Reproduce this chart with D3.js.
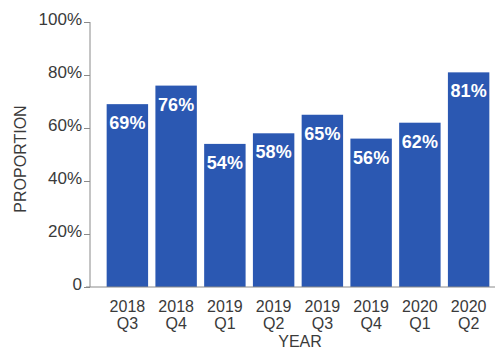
<!DOCTYPE html>
<html><head><meta charset="utf-8">
<script src="https://cdn.jsdelivr.net/npm/d3@7"></script>
<style>body{margin:0;background:#fff}svg{display:block}text{font-family:"Liberation Sans",Arial,sans-serif}</style>
</head><body>
<script>
const years = ["2018","2018","2019","2019","2019","2019","2020","2020"];
const quarters = ["Q3","Q4","Q1","Q2","Q3","Q4","Q1","Q2"];
const values = [69,76,54,58,65,56,62,81];
const yTicks = [0,20,40,60,80,100];
const yTickLabels = ["0","20%","40%","60%","80%","100%"];

const W=502,H=353;
const svg=d3.select("body").append("svg").attr("width",W).attr("height",H);
const cats = years.map((y,i)=>y+" "+quarters[i]);
const x=d3.scaleBand().domain(cats).range([103,493]).paddingInner(0.15).paddingOuter(0.075);
const y=d3.scaleLinear().domain([0,100]).range([287,22]);
const axisColor="#8a8a8a", textColor="#3a3a3a", barColor="#2b58b2";

// bars
svg.selectAll("rect.bar").data(values).enter().append("rect")
  .attr("x",(d,i)=>x(cats[i])).attr("width",x.bandwidth())
  .attr("y",d=>y(d)).attr("height",d=>y(0)-y(d)).attr("fill",barColor);
svg.selectAll("text.val").data(values).enter().append("text")
  .attr("x",(d,i)=>x(cats[i])+x.bandwidth()/2).attr("y",d=>y(d)+25)
  .attr("text-anchor","middle").attr("fill","#fff").attr("font-weight","bold")
  .attr("font-size",18).text(d=>d+"%");

// y axis
const yAxis=d3.axisLeft(y).tickValues(yTicks).tickFormat((d,i)=>yTickLabels[i]).tickSize(6).tickPadding(2);
const ga=svg.append("g").attr("transform","translate(90,0)").call(yAxis);
ga.select(".domain").attr("stroke",axisColor).attr("d","M0,"+y(100)+"V"+y(0));
ga.selectAll(".tick line").attr("stroke",axisColor);
ga.selectAll(".tick text").attr("font-size",17).attr("fill",textColor).attr("dy","0.15em").attr("font-family","Liberation Sans, Arial");
// baseline
svg.append("line").attr("x1",86).attr("x2",495).attr("y1",y(0)).attr("y2",y(0)).attr("stroke",axisColor);

// x labels
const gx=svg.append("g");
cats.forEach((c,i)=>{
  const cx=x(c)+x.bandwidth()/2;
  gx.append("text").attr("x",cx).attr("y",312).attr("text-anchor","middle")
   .attr("font-size",16).attr("fill",textColor).text(years[i]);
  gx.append("text").attr("x",cx).attr("y",329).attr("text-anchor","middle")
   .attr("font-size",16).attr("fill",textColor).text(quarters[i]);
});
svg.append("text").attr("x",300).attr("y",347).attr("text-anchor","middle").attr("font-size",16).attr("fill",textColor).text("YEAR");
svg.append("text").attr("transform","translate(26,159) rotate(-90)").attr("text-anchor","middle").attr("font-size",16).attr("fill",textColor).text("PROPORTION");
</script>
</body></html>
